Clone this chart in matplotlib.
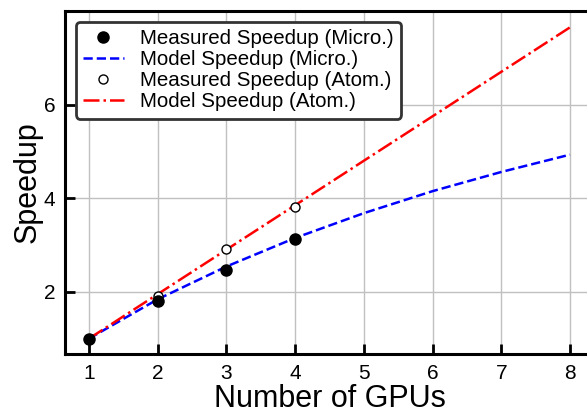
import matplotlib
matplotlib.use("Agg")
import matplotlib.pyplot as plt

gpus_meas = [1, 2, 3, 4]
meas_micro = [1.0, 1.80, 2.46, 3.13]
meas_atom = [1.0, 1.91, 2.92, 3.82]
gpus_model = [1, 2, 3, 4, 5, 6, 7, 8]
model_micro = [1.0, 1.84, 2.54, 3.15, 3.68, 4.15, 4.56, 4.93]
model_atom = [1.0, 1.95, 2.90, 3.85, 4.80, 5.75, 6.70, 7.65]

plt.rcParams['font.family'] = ['Liberation Sans', 'DejaVu Sans']

fig = plt.figure(figsize=(5.87, 4.17), dpi=100)
W, H = 587, 417
left_px, right_px, top_px, bot_px = 65, 594, 11, 354
ax = fig.add_axes([left_px / W, 1 - bot_px / H, (right_px - left_px) / W, (bot_px - top_px) / H])

ax.plot(gpus_meas, meas_micro, 'o', color='black', markersize=8, label='Measured Speedup (Micro.)', zorder=4)
ax.plot(gpus_model, model_micro, '--', color='blue', linewidth=1.8, label='Model Speedup (Micro.)', zorder=2)
ax.plot(gpus_meas, meas_atom, 'o', markerfacecolor='white', markeredgecolor='black', markersize=6.5,
        markeredgewidth=1.0, label='Measured Speedup (Atom.)', zorder=3)
ax.plot(gpus_model, model_atom, '-.', color='red', linewidth=1.8, label='Model Speedup (Atom.)', zorder=2)

ax.set_xlim(0.65, 8.35)
ax.set_ylim(0.67, 8.0)
ax.set_xticks([1, 2, 3, 4, 5, 6, 7, 8])
ax.set_yticks([2, 4, 6])
ax.grid(True, color='#c0c0c0', linewidth=1.0)
ax.set_axisbelow(True)
for s in ax.spines.values():
    s.set_linewidth(2.2)
ax.tick_params(direction='in', length=7, width=2, labelsize=15, pad=7)

ax.set_xlabel('Number of GPUs', fontsize=22, labelpad=1)
ax.set_ylabel('Speedup', fontsize=22, labelpad=0.5)

leg = ax.legend(loc='upper left', fontsize=14.8, frameon=True, fancybox=True, framealpha=1,
                edgecolor='#333333', borderpad=0.35, labelspacing=0.1, handlelength=2.0,
                handletextpad=0.8, bbox_to_anchor=(0.02, 0.968), borderaxespad=0)
leg.get_frame().set_linewidth(2)

fig.savefig('out.png', dpi=100)
